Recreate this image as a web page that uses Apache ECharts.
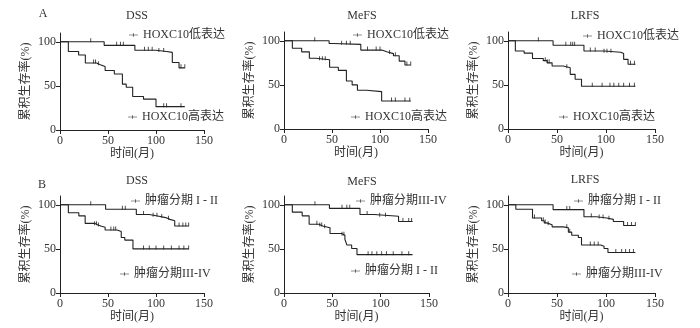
<!DOCTYPE html>
<html>
<head>
<meta charset="utf-8">
<script src="https://cdn.jsdelivr.net/npm/echarts@6/dist/echarts.min.js"></script>
<style>
html, body { margin: 0; padding: 0; background: #fff; }
#main { width: 700px; height: 328px; }
</style>
</head>
<body>
<div id="main"></div>
<script>
var xTicks = [0, 50, 100, 150];
var yTicks = [0, 50, 100];
var panelLetters = ['A', 'B'];
var panelTitles = ['DSS', 'MeFS', 'LRFS', 'DSS', 'MeFS', 'LRFS'];
var namesA = ['HOXC10低表达', 'HOXC10高表达'];
var namesB = ['肿瘤分期 I - II', '肿瘤分期III-IV'];

// A 组 HOXC10 低/高表达，[月, 累积生存率%]
var dssLowA = [[0,100],[46,96],[78,90.5],[100,89],[111,88],[117,76.5],[124,70.5],[130,70.5]];
var dssLowACensor = [32, 59, 63, 66, 88, 92, 96, 103, 108, 126, 130];
var dssHighA = [[0,100],[8.7,89],[19.4,85],[26.4,76],[38,74],[42,72],[47,67.5],[56.6,63.5],[65,52],[69,48.5],[75.7,38],[87,35],[100,26.5],[130,26.5]];
var dssHighACensor = [35, 37, 40, 108, 111, 126];

var mefsLowA = [[0,100],[47,97],[51,96],[80,89.5],[102,87.5],[107,85.5],[114,83],[120,77],[126,72.5],[132,72.5]];
var mefsLowACensor = [32, 60, 65, 69, 87, 96, 100, 110, 116, 128, 132];
var mefsHighA = [[0,100],[8.7,91.5],[18.4,87.5],[26.4,80.3],[33,78.5],[47.5,70],[56.6,66.5],[65,54.5],[71,50],[76.5,44],[86,42.4],[101.7,31.8],[132,31.8]];
var mefsHighACensor = [37, 40, 43, 112, 116, 126, 131];

var lrfsLowA = [[0,100],[46,95],[77.5,88.5],[98,87],[115,85.5],[118,79],[122.5,73.5],[130,73.5]];
var lrfsLowACensor = [31, 59, 64, 66, 68, 84, 89, 98, 101, 105, 125, 129];
var lrfsHighA = [[0,100],[7.5,88.5],[16.5,86],[25,80],[36,77.5],[40,75],[45,71.5],[56.5,69.5],[63.5,62],[68.5,56.5],[75,48.5],[130,48.5]];
var lrfsHighACensor = [38, 40, 42, 60, 86, 96, 104, 108, 113, 118, 124, 129];

// B 组 肿瘤分期 I-II / III-IV
var dssEarlyB = [[0,100],[47.5,95],[79.5,89],[93,87],[103,85.5],[110,83.5],[114.6,82],[119.5,76],[134,76]];
var dssEarlyBCensor = [32, 65, 68, 87, 97, 101, 106, 113, 124, 128, 131, 134];
var dssLateB = [[0,100],[8.7,91],[19.6,87.5],[26.2,79],[36,77.5],[39,76],[42.5,74.5],[47,71.5],[59.5,69.7],[63.8,63],[67.5,60],[76,50],[134,50]];
var dssLateBCensor = [36, 38, 40, 53, 56, 58, 87, 93, 100, 108, 116, 124, 129, 134];

var mefsLateB = [[0,100],[47,96],[78.6,89],[93,87],[118.5,81],[133,81]];
var mefsLateBCensor = [32, 60, 65, 68, 86, 99, 105, 123, 129, 132];
var mefsEarlyB = [[0,100],[8.6,91.7],[18.8,87.5],[26,78],[36,76],[40,74],[47.6,67.5],[59.6,65.5],[63,61],[65,54.5],[70,50.5],[75.5,43.5],[133,43.5]];
var mefsEarlyBCensor = [34, 37, 39, 42, 60, 62, 87, 91, 96, 101, 106, 113, 122, 129];

var lrfsEarlyB = [[0,100],[46,94.6],[77.5,86.5],[90,85],[100.7,83.5],[107.5,81],[118,76.5],[130,76.5]];
var lrfsEarlyBCensor = [60, 63, 85, 93, 97, 103, 122, 126, 130];
var lrfsLateB = [[0,100],[8,95],[25,85],[34.3,82],[37,79.5],[39.5,77.5],[45,75],[56.5,74],[61.6,69],[65,65.5],[71.8,63],[75,54.5],[94.6,53],[98,50.5],[102,46],[130,46]];
var lrfsLateBCensor = [27, 36, 38, 41, 60, 63, 84, 88, 92, 110, 116, 120, 124, 128];

var panels = [
    { names: [namesA[0], namesA[1]], curves: [dssLowA, dssHighA], censors: [dssLowACensor, dssHighACensor] },
    { names: [namesA[0], namesA[1]], curves: [mefsLowA, mefsHighA], censors: [mefsLowACensor, mefsHighACensor] },
    { names: [namesA[0], namesA[1]], curves: [lrfsLowA, lrfsHighA], censors: [lrfsLowACensor, lrfsHighACensor] },
    { names: [namesB[0], namesB[1]], curves: [dssEarlyB, dssLateB], censors: [dssEarlyBCensor, dssLateBCensor] },
    { names: [namesB[1], namesB[0]], curves: [mefsLateB, mefsEarlyB], censors: [mefsLateBCensor, mefsEarlyBCensor] },
    { names: [namesB[0], namesB[1]], curves: [lrfsEarlyB, lrfsLateB], censors: [lrfsEarlyBCensor, lrfsLateBCensor] }
];

// layout
var grids = [
    { left: 60, top: 33, width: 144, height: 97 },
    { left: 284, top: 32, width: 144, height: 97 },
    { left: 508, top: 32, width: 147, height: 97 },
    { left: 60, top: 196, width: 144, height: 97 },
    { left: 284, top: 196, width: 145, height: 97 },
    { left: 508, top: 196, width: 147, height: 97 }
];
var titlePos = [[137, 16], [362, 16], [585, 16], [137, 181], [362, 182], [585, 180]];
var letterPos = [[43, 14], [42, 185]];
// [upper legend, lower legend] -> [left, top]
var legendPos = [
    [[129, 29], [128, 111]],
    [[353, 29], [351, 111]],
    [[583, 30], [559, 111]],
    [[131, 195], [120, 268]],
    [[356, 195], [351, 265]],
    [[574, 195], [572, 268]]
];

var lineColor = '#222';
var textColor = '#333';
var fontLatin = "'Liberation Serif', 'Noto Sans CJK SC', serif";
var legendIcon = 'path://M0,4H20V5.4H0Z M9.3,1H10.7V8.4H9.3Z';

function survAt(steps, t) {
    var v = steps[0][1];
    for (var i = 0; i < steps.length; i++) {
        if (steps[i][0] <= t) v = steps[i][1];
    }
    return v;
}

var myChart = echarts.init(document.getElementById('main'));

var option = {
    animation: false,
    grid: [],
    xAxis: [],
    yAxis: [],
    series: [],
    legend: [],
    graphic: []
};

panels.forEach(function (p, i) {
    option.grid.push(grids[i]);
    option.xAxis.push({
        gridIndex: i,
        type: 'value',
        min: xTicks[0],
        max: xTicks[xTicks.length - 1],
        interval: 50,
        name: '时间(月)',
        nameLocation: 'middle',
        nameGap: 18,
        nameTextStyle: { fontFamily: fontLatin, fontSize: 12, color: textColor },
        axisLine: { lineStyle: { color: lineColor, width: 1 } },
        axisTick: { length: 4, lineStyle: { color: lineColor } },
        axisLabel: { fontFamily: fontLatin, fontSize: 12, color: textColor, margin: 5 },
        splitLine: { show: false }
    });
    option.yAxis.push({
        gridIndex: i,
        type: 'value',
        min: 0,
        max: 110,
        interval: 50,
        name: '累积生存率(%)',
        nameLocation: 'middle',
        nameRotate: 90,
        nameGap: 28,
        nameTextStyle: { fontFamily: fontLatin, fontSize: 12, color: textColor },
        axisLine: { show: true, lineStyle: { color: lineColor, width: 1 } },
        axisTick: { show: true, length: 4, customValues: yTicks, lineStyle: { color: lineColor } },
        axisLabel: {
            fontFamily: fontLatin, fontSize: 12, color: textColor, margin: 4,
            customValues: yTicks,
            formatter: function (v) { return yTicks.indexOf(v) >= 0 ? v : ''; }
        },
        splitLine: { show: false }
    });

    p.curves.forEach(function (steps, k) {
        option.series.push({
            name: p.names[k],
            type: 'line',
            step: 'end',
            xAxisIndex: i,
            yAxisIndex: i,
            data: steps,
            symbol: 'none',
            color: lineColor,
            lineStyle: { color: lineColor, width: 1.1 },
            emphasis: { disabled: true }
        });
        // 删失标记
        option.series.push({
            name: p.names[k],
            type: 'scatter',
            xAxisIndex: i,
            yAxisIndex: i,
            data: p.censors[k].map(function (t) { return [t, survAt(steps, t)]; }),
            symbol: 'rect',
            symbolSize: [1, 4],
            symbolOffset: [0, -1.5],
            color: lineColor,
            silent: true,
            z: 3
        });
    });

    p.names.forEach(function (nm, k) {
        option.legend.push({
            data: [nm],
            left: legendPos[i][k][0],
            top: legendPos[i][k][1],
            padding: 0,
            icon: legendIcon,
            itemWidth: 9,
            itemHeight: 5,
            textStyle: { fontFamily: fontLatin, fontSize: 12, color: textColor }
        });
    });

    option.graphic.push({
        type: 'text',
        x: titlePos[i][0],
        y: titlePos[i][1],
        style: {
            text: panelTitles[i],
            fontFamily: fontLatin,
            fontSize: 12,
            fill: textColor,
            align: 'center',
            verticalAlign: 'middle'
        }
    });
});

panelLetters.forEach(function (l, j) {
    option.graphic.push({
        type: 'text',
        x: letterPos[j][0],
        y: letterPos[j][1],
        style: {
            text: l,
            fontFamily: fontLatin,
            fontSize: 12,
            fill: textColor,
            align: 'center',
            verticalAlign: 'middle'
        }
    });
});

myChart.setOption(option);
</script>
</body>
</html>
